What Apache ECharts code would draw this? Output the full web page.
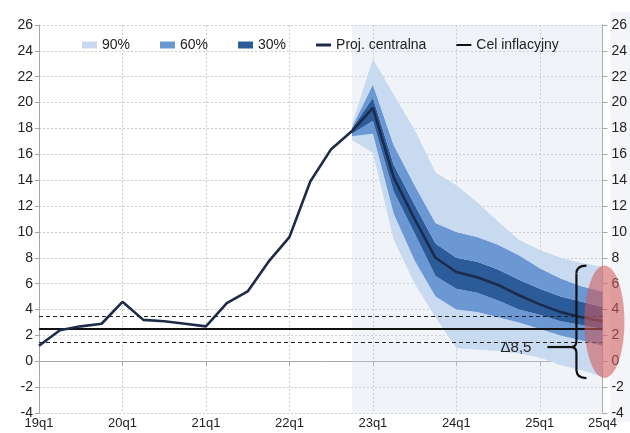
<!DOCTYPE html>
<html>
<head>
<meta charset="utf-8">
<script src="https://cdn.jsdelivr.net/npm/echarts@6/dist/echarts.min.js"></script>
<style>
  html, body { margin: 0; padding: 0; background: #fff; }
  #main { width: 630px; height: 433px; }
</style>
</head>
<body>
<div id="main"></div>
<script>
// kwartały na osi X
const quarters = [
  '19q1', '19q2', '19q3', '19q4', '20q1', '20q2', '20q3', '20q4',
  '21q1', '21q2', '21q3', '21q4', '22q1', '22q2', '22q3', '22q4',
  '23q1', '23q2', '23q3', '23q4', '24q1', '24q2', '24q3', '24q4',
  '25q1', '25q2', '25q3', '25q4'
]

// projekcja centralna (dane + projekcja)
const central = [
  1.2, 2.4, 2.7, 2.9, 4.6, 3.2, 3.1, 2.9,
  2.7, 4.5, 5.4, 7.7, 9.6, 13.9, 16.4, 17.8,
  19.6, 14.2, 11.0, 8.0, 6.9, 6.5, 5.9, 5.1,
  4.4, 3.8, 3.4, 3.1
]

// wachlarz od 22q4 do 25q4
const fanStart = '22q4'
const band90Low  = [17.1, 16.1, 9.4, 6.0, 3.4, 1.0, 0.9, 0.8, 0.6, 0.3, -0.3, -0.7, -1.2]
const band60Low  = [17.4, 17.6, 11.4, 7.8, 5.0, 4.0, 3.8, 3.4, 3.0, 2.5, 2.0, 1.6, 1.2]
const band30Low  = [17.6, 18.6, 13.1, 9.9, 6.6, 5.6, 5.3, 4.7, 4.0, 3.6, 3.1, 2.8, 2.5]
const band30High = [18.0, 20.4, 15.2, 12.1, 9.1, 8.0, 7.7, 7.1, 6.3, 5.6, 5.0, 4.6, 4.2]
const band60High = [18.1, 21.4, 16.7, 13.6, 10.7, 10.0, 9.6, 9.0, 8.2, 7.2, 6.4, 5.8, 5.4]
const band90High = [18.3, 23.4, 20.6, 17.9, 14.6, 13.6, 12.3, 10.8, 9.4, 8.6, 8.0, 7.6, 7.3]

// cel inflacyjny i pasmo odchyleń
const target = 2.5
const targetBand = [1.5, 3.5]

// oś Y
const yMin = -4
const yMax = 26
const yStep = 2

// adnotacja przy 25q4
const spreadRange = [-1.3, 7.4]
const braceTip = 1.1
const spreadLabel = 'Δ8,5'

const font = 'Liberation Sans, Arial, sans-serif'
const offset = quarters.indexOf(fanStart)
const pad = arr => Array(offset).fill('-').concat(arr)
const diff = (a, b) => a.map((v, i) => +(v - b[i]).toFixed(2))
const showTick = i => i % 4 === 0 || i === quarters.length - 1

const bandPiece = (name, color, values) => ({
  name: name,
  type: 'line',
  stack: 'fan',
  stackStrategy: 'all',
  data: pad(values),
  symbol: 'none',
  color: color,
  lineStyle: { width: 0 },
  areaStyle: { color: color, opacity: 1 },
  silent: true,
  emphasis: { disabled: true }
})

const c90 = '#c8daef'
const c60 = '#6b97d2'
const c30 = '#2c5b9a'

const chart = echarts.init(document.getElementById('main'))

chart.setOption({
  animation: false,
  textStyle: { fontFamily: font },
  grid: { left: 39, right: 27, top: 25, bottom: 20 },
  legend: {
    left: 77,
    top: 33,
    itemWidth: 15,
    itemHeight: 7,
    itemGap: 30,
    selectedMode: false,
    textStyle: { fontSize: 14, color: '#222', fontFamily: font },
    data: [
      { name: '90%', icon: 'rect' },
      { name: '60%', icon: 'rect' },
      { name: '30%', icon: 'rect' },
      { name: 'Proj. centralna', icon: 'path://M0,0H15V3H0Z' },
      { name: 'Cel inflacyjny', icon: 'path://M0,0H15V2H0Z' }
    ]
  },
  xAxis: {
    type: 'category',
    boundaryGap: false,
    data: quarters,
    axisLine: { lineStyle: { color: '#a6a6a6', width: 1 } },
    axisTick: { show: true, length: 4, interval: showTick, lineStyle: { color: '#a6a6a6' } },
    axisLabel: { interval: showTick, fontSize: 13, color: '#222', margin: 4 },
    splitLine: {
      show: true,
      interval: i => i % 4 === 0,
      lineStyle: { color: '#cccccc', type: [2, 2] }
    }
  },
  yAxis: [
    {
      type: 'value',
      min: yMin, max: yMax, interval: yStep,
      position: 'left',
      axisLine: { show: true, lineStyle: { color: '#a6a6a6' } },
      axisTick: { show: true, length: 4, lineStyle: { color: '#a6a6a6' } },
      axisLabel: { fontSize: 14, color: '#222', margin: 6 },
      splitLine: { lineStyle: { color: '#cccccc', type: [2, 2] } }
    },
    {
      type: 'value',
      min: yMin, max: yMax, interval: yStep,
      position: 'right',
      axisLine: { show: true, lineStyle: { color: '#a6a6a6' } },
      axisTick: { show: true, length: 5, lineStyle: { color: '#a6a6a6' } },
      axisLabel: { fontSize: 14, color: '#222', margin: 9 },
      splitLine: { show: false }
    }
  ],
  series: [
    {
      name: 'base',
      type: 'line',
      stack: 'fan',
      stackStrategy: 'all',
      data: pad(band90Low),
      symbol: 'none',
      lineStyle: { width: 0 },
      silent: true,
      markArea: {
        silent: true,
        itemStyle: { color: 'rgba(205, 218, 236, 0.3)' },
        data: [[{ xAxis: fanStart, yAxis: yMax }, { xAxis: quarters[quarters.length - 1], yAxis: yMin }]]
      }
    },
    bandPiece('90%', c90, diff(band60Low, band90Low)),
    bandPiece('60%', c60, diff(band30Low, band60Low)),
    bandPiece('30%', c30, diff(band30High, band30Low)),
    bandPiece('60%', c60, diff(band60High, band30High)),
    bandPiece('90%', c90, diff(band90High, band60High)),
    {
      name: 'Cel inflacyjny',
      type: 'line',
      data: [],
      symbol: 'none',
      color: '#111',
      lineStyle: { color: '#111', width: 1.5 },
      markLine: {
        silent: true,
        symbol: 'none',
        label: { show: false },
        data: [
          { yAxis: target, lineStyle: { color: '#111', width: 2.2, type: 'solid' } },
          { yAxis: targetBand[0], lineStyle: { color: '#222', width: 1.2, type: [4, 3] } },
          { yAxis: targetBand[1], lineStyle: { color: '#222', width: 1.2, type: [4, 3] } }
        ]
      }
    },
    {
      name: 'Proj. centralna',
      type: 'line',
      data: central,
      symbol: 'none',
      color: '#1c2b4a',
      lineStyle: { color: '#1c2b4a', width: 2.6 },
      z: 5
    }
  ]
})

// adnotacja: elipsa, klamra i opis rozpiętości
const lastIdx = quarters.length - 1
const [xEnd, yTop] = chart.convertToPixel({ gridIndex: 0 }, [lastIdx, spreadRange[1]])
const [, yBot] = chart.convertToPixel({ gridIndex: 0 }, [lastIdx, spreadRange[0]])
const [, yTip] = chart.convertToPixel({ gridIndex: 0 }, [lastIdx, braceTip])
const xr = xEnd - 16
const xl = xEnd - 26
const braceStyle = { fill: null, stroke: '#111', lineWidth: 2.2 }
const curve = (x1, y1, cx, cy, x2, y2) => ({
  type: 'bezierCurve',
  z: 11,
  shape: { x1: x1, y1: y1, cpx1: cx, cpy1: cy, x2: x2, y2: y2 },
  style: braceStyle
})
const seg = (x1, y1, x2, y2) => ({
  type: 'line',
  z: 11,
  shape: { x1: x1, y1: y1, x2: x2, y2: y2 },
  style: braceStyle
})

chart.setOption({
  graphic: [
    {
      type: 'rect',
      z: -1,
      shape: { x: xEnd + 8, y: 12, width: 30, height: 410 },
      style: { fill: '#f4f5f8' }
    },
    {
      type: 'ellipse',
      z: 10,
      shape: { cx: xEnd + 2, cy: (yTop + yBot) / 2, rx: 20, ry: (yBot - yTop) / 2 },
      style: { fill: 'rgba(208, 92, 92, 0.58)' }
    },
    curve(xr, yTop, xl, yTop, xl, yTop + 8),
    seg(xl, yTop + 8, xl, yTip - 6),
    curve(xl, yTip - 6, xl, yTip, xl - 5, yTip),
    curve(xl - 5, yTip, xl, yTip, xl, yTip + 6),
    seg(xl, yTip + 6, xl, yBot - 8),
    curve(xl, yBot - 8, xl, yBot, xr, yBot),
    seg(xl - 29, yTip, xl - 5, yTip),
    {
      type: 'text',
      z: 11,
      style: {
        x: xl - 45,
        y: yTip + 1,
        text: spreadLabel,
        fill: '#222',
        font: '15px ' + font,
        align: 'right',
        verticalAlign: 'middle'
      }
    }
  ]
})
</script>
</body>
</html>
